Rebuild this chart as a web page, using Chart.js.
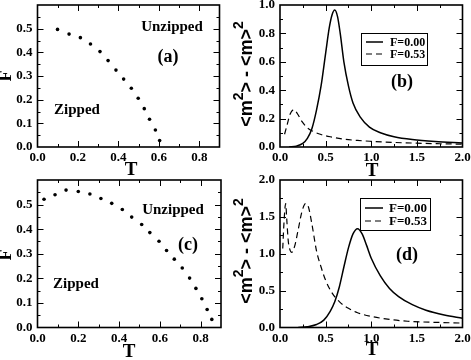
<!DOCTYPE html>
<html>
<head>
<meta charset="utf-8">
<script src="https://cdn.jsdelivr.net/npm/chart.js@4.4.1/dist/chart.umd.min.js"></script>
<style>
html, body { margin: 0; padding: 0; background: #fff; }
#wrap { position: relative; width: 471px; height: 360px; }
canvas { position: absolute; left: 0; top: 0; }
</style>
</head>
<body>
<div id="wrap">
<canvas id="pa" width="471" height="360"></canvas>
<canvas id="pb" width="471" height="360"></canvas>
<canvas id="pc" width="471" height="360"></canvas>
<canvas id="pd" width="471" height="360"></canvas>
</div>
<script>
// (a) phase boundary
const aT = [0.099, 0.156, 0.212, 0.262, 0.309, 0.349, 0.388, 0.426, 0.464, 0.498, 0.528, 0.554, 0.583, 0.604];
const aF = [0.497, 0.477, 0.462, 0.435, 0.403, 0.365, 0.325, 0.287, 0.248, 0.206, 0.162, 0.117, 0.072, 0.027];

// (c) phase boundary
const cT = [0.032, 0.086, 0.140, 0.200, 0.257, 0.311, 0.364, 0.416, 0.462, 0.511, 0.551, 0.596, 0.633, 0.671, 0.710, 0.746, 0.777, 0.806, 0.832, 0.855];
const cF = [0.522, 0.540, 0.559, 0.553, 0.543, 0.525, 0.505, 0.480, 0.449, 0.419, 0.386, 0.351, 0.313, 0.278, 0.242, 0.201, 0.159, 0.117, 0.073, 0.033];

// (b) fluctuations
const bT0 = [0.10, 0.18, 0.25, 0.30, 0.35, 0.40, 0.45, 0.50, 0.54, 0.57, 0.60, 0.63, 0.66, 0.70, 0.75, 0.80, 0.88, 0.98, 1.10, 1.25, 1.45, 1.70, 2.00];
const bV0 = [0.0, 0.006, 0.025, 0.06, 0.13, 0.26, 0.43, 0.66, 0.84, 0.93, 0.965, 0.92, 0.80, 0.60, 0.43, 0.31, 0.21, 0.14, 0.10, 0.072, 0.052, 0.038, 0.028];
const bT53 = [0.05, 0.08, 0.11, 0.15, 0.19, 0.24, 0.30, 0.37, 0.45, 0.55, 0.70, 0.85, 1.00, 1.25, 1.50, 1.75, 2.00];
const bV53 = [0.09, 0.16, 0.23, 0.262, 0.235, 0.18, 0.135, 0.108, 0.088, 0.072, 0.055, 0.046, 0.040, 0.032, 0.027, 0.023, 0.020];

// (d) fluctuations
const dT0 = [0.20, 0.30, 0.40, 0.48, 0.55, 0.60, 0.65, 0.70, 0.75, 0.80, 0.85, 0.90, 0.95, 1.00, 1.10, 1.20, 1.30, 1.45, 1.60, 1.80, 2.00];
const dV0 = [0.0, 0.01, 0.04, 0.10, 0.22, 0.35, 0.55, 0.82, 1.08, 1.27, 1.34, 1.27, 1.11, 0.94, 0.70, 0.53, 0.42, 0.31, 0.235, 0.17, 0.125];
const dT53 = [0.03, 0.045, 0.062, 0.075, 0.09, 0.11, 0.128, 0.16, 0.20, 0.24, 0.28, 0.31, 0.35, 0.40, 0.45, 0.50, 0.57, 0.65, 0.75, 0.85, 1.00, 1.20, 1.40, 1.70, 2.00];
const dV53 = [1.07, 1.45, 1.68, 1.45, 1.18, 1.05, 1.02, 1.10, 1.33, 1.57, 1.68, 1.64, 1.40, 1.04, 0.82, 0.64, 0.47, 0.35, 0.26, 0.20, 0.15, 0.11, 0.085, 0.07, 0.06];

const seriesLabels = ['F=0.00', 'F=0.53'];
const phaseXTicks = ['0.0', '0.2', '0.4', '0.6', '0.8'];
const phaseYTicks = ['0.0', '0.1', '0.2', '0.3', '0.4', '0.5'];
const flucXTicks = ['0.0', '0.5', '1.0', '1.5', '2.0'];
const bYTicks = ['0.0', '0.2', '0.4', '0.6', '0.8', '1.0'];
const dYTicks = ['0.0', '0.5', '1.0', '1.5', '2.0'];

function pts(xs, ys) {
    return xs.map((x, i) => ({x: x, y: ys[i]}));
}

const SERIF = '"Liberation Serif", "Times New Roman", serif';
const SANS = '"Liberation Sans", Arial, sans-serif';

// box with inward ticks on all four sides
const frame = {
    id: 'frame',
    afterDraw(chart) {
        const o = chart.options.plugins.frame;
        if (!o) return;
        const ctx = chart.ctx, a = chart.chartArea;
        const xs = chart.scales.x, ys = chart.scales.y;
        const marks = (min, max, minor, major) => {
            const out = [];
            const n = Math.round((max - min) / minor);
            for (let i = 1; i < n; i++) {
                const v = min + i * minor;
                const r = v / major;
                out.push({v: v, big: Math.abs(r - Math.round(r)) < 1e-6});
            }
            return out;
        };
        ctx.save();
        ctx.strokeStyle = '#000';
        ctx.lineWidth = 1;
        ctx.beginPath();
        marks(xs.min, xs.max, o.xMinor, o.xMajor).forEach(m => {
            const p = Math.round(xs.getPixelForValue(m.v)) + 0.5, len = m.big ? 6 : 3;
            ctx.moveTo(p, a.bottom); ctx.lineTo(p, a.bottom - len);
            ctx.moveTo(p, a.top); ctx.lineTo(p, a.top + len);
        });
        marks(ys.min, ys.max, o.yMinor, o.yMajor).forEach(m => {
            const p = Math.round(ys.getPixelForValue(m.v)) + 0.5, len = m.big ? 6 : 3;
            ctx.moveTo(a.left, p); ctx.lineTo(a.left + len, p);
            ctx.moveTo(a.right, p); ctx.lineTo(a.right - len, p);
        });
        ctx.stroke();
        ctx.lineWidth = 1.6;
        ctx.strokeRect(a.left, a.top, a.right - a.left, a.bottom - a.top);
        ctx.restore();
    }
};

// free text: axis titles, region names, panel tags
const texts = {
    id: 'texts',
    afterDraw(chart) {
        const items = chart.options.plugins.texts || [];
        const ctx = chart.ctx;
        items.forEach(it => {
            ctx.save();
            ctx.fillStyle = '#000';
            ctx.textAlign = 'center';
            ctx.textBaseline = 'middle';
            ctx.translate(it.x, it.y);
            if (it.rot) ctx.rotate(-Math.PI / 2);
            if (it.parts) {
                // text with raised "2"
                let w = 0;
                it.parts.forEach(p => {
                    ctx.font = 'bold ' + (p[1] ? it.supSize : it.size) + 'px ' + SANS;
                    w += ctx.measureText(p[0]).width;
                });
                let x = -w / 2;
                ctx.textAlign = 'left';
                it.parts.forEach(p => {
                    ctx.font = 'bold ' + (p[1] ? it.supSize : it.size) + 'px ' + SANS;
                    ctx.fillText(p[0], x, p[1] ? -it.supOff : 0);
                    x += ctx.measureText(p[0]).width;
                });
            } else {
                ctx.font = 'bold ' + it.size + 'px ' + SERIF;
                ctx.fillText(it.t, 0, 0);
            }
            ctx.restore();
        });
    }
};

// boxed legend inside the plot
const boxLegend = {
    id: 'boxLegend',
    afterDraw(chart) {
        const o = chart.options.plugins.boxLegend;
        if (!o) return;
        const ctx = chart.ctx;
        ctx.save();
        ctx.fillStyle = '#fff';
        ctx.fillRect(o.x1, o.y1, o.x2 - o.x1, o.y2 - o.y1);
        ctx.strokeStyle = '#000';
        ctx.lineWidth = 1;
        ctx.strokeRect(o.x1 + 0.5, o.y1 + 0.5, o.x2 - o.x1, o.y2 - o.y1);
        chart.data.datasets.forEach((ds, i) => {
            const y = o.rows[i];
            ctx.beginPath();
            ctx.setLineDash(ds.borderDash || []);
            ctx.lineWidth = ds.borderWidth;
            ctx.moveTo(o.lx1, y);
            ctx.lineTo(o.lx2, y);
            ctx.stroke();
            ctx.setLineDash([]);
            ctx.fillStyle = '#000';
            ctx.font = 'bold ' + o.size + 'px ' + SERIF;
            ctx.textAlign = 'left';
            ctx.textBaseline = 'middle';
            ctx.fillText(ds.label, o.tx, y + 0.5);
        });
        ctx.restore();
    }
};

function axis(min, max, step, labels, isX) {
    return {
        type: 'linear',
        min: min,
        max: max,
        grid: {display: false, drawTicks: false},
        border: {display: false},
        ticks: {
            stepSize: step,
            color: '#000',
            padding: isX ? 3 : 5,
            maxRotation: 0,
            autoSkip: false,
            font: {family: SERIF, weight: 'bold', size: 13},
            callback: v => {
                const s = Number(v).toFixed(1);
                return labels.includes(s) ? s : '';
            }
        },
        afterFit: s => {
            if (isX) s.height = 20; else s.width = 30;
            s.paddingTop = 0; s.paddingBottom = 0;
            s.paddingLeft = 0; s.paddingRight = 0;
        }
    };
}

function makePanel(id, box, datasets, xAxis, yAxis, frameOpts, textItems, legendOpts) {
    new Chart(document.getElementById(id), {
        type: 'scatter',
        data: {datasets: datasets},
        options: {
            responsive: false,
            animation: false,
            events: [],
            layout: {padding: {left: box.L - 30, right: 471 - box.R, top: box.T, bottom: 360 - box.B - 20}},
            scales: {x: xAxis, y: yAxis},
            plugins: {
                legend: {display: false},
                tooltip: {enabled: false},
                frame: frameOpts,
                texts: textItems,
                boxLegend: legendOpts
            }
        },
        plugins: [frame, texts, boxLegend]
    });
}

function dots(xs, ys) {
    return {data: pts(xs, ys), showLine: false, pointRadius: 1.8, pointBackgroundColor: '#000', pointBorderWidth: 0};
}

function curve(xs, ys, label, dashed) {
    return {
        label: label,
        data: pts(xs, ys),
        showLine: true,
        pointRadius: 0,
        borderColor: '#000',
        borderWidth: dashed ? 1.2 : 1.5,
        borderDash: dashed ? [6, 4] : [],
        cubicInterpolationMode: 'monotone'
    };
}

const msqParts = [['<m', false], ['2', true], ['> - <m>', false], ['2', true]];

makePanel('pa', {L: 37.5, R: 219.5, T: 5, B: 147},
    [dots(aT, aF)],
    axis(0, 0.9, 0.1, phaseXTicks, true), axis(0, 0.6, 0.1, phaseYTicks, false),
    {xMajor: 0.2, xMinor: 0.1, yMajor: 0.1, yMinor: 0.05},
    [{t: 'Unzipped', x: 172, y: 27, size: 15},
     {t: '(a)', x: 168, y: 57, size: 18},
     {t: 'Zipped', x: 77, y: 110, size: 15},
     {t: 'F', x: 6, y: 76, size: 18, rot: true},
     {t: 'T', x: 131, y: 170, size: 19}],
    null);

makePanel('pb', {L: 280, R: 462.5, T: 5, B: 147},
    [curve(bT0, bV0, seriesLabels[0], false), curve(bT53, bV53, seriesLabels[1], true)],
    axis(0, 2, 0.5, flucXTicks, true), axis(0, 1, 0.2, bYTicks, false),
    {xMajor: 0.5, xMinor: 0.25, yMajor: 0.2, yMinor: 0.1},
    [{t: '(b)', x: 402, y: 82, size: 18},
     {t: 'T', x: 372, y: 171, size: 19},
     {parts: msqParts, x: 247, y: 74, size: 18, supSize: 14, supOff: 8, rot: true}],
    {x1: 361, y1: 33, x2: 427, y2: 65, lx1: 366, lx2: 383, tx: 390, rows: [42, 54], size: 12});

makePanel('pc', {L: 37.5, R: 221, T: 180, B: 327.5},
    [dots(cT, cF)],
    axis(0, 0.9, 0.1, phaseXTicks, true), axis(0, 0.6, 0.1, phaseYTicks, false),
    {xMajor: 0.2, xMinor: 0.1, yMajor: 0.1, yMinor: 0.05},
    [{t: 'Unzipped', x: 173, y: 210, size: 15},
     {t: '(c)', x: 188, y: 245, size: 18},
     {t: 'Zipped', x: 76, y: 284, size: 15},
     {t: 'F', x: 6, y: 255, size: 18, rot: true},
     {t: 'T', x: 129, y: 352, size: 19}],
    null);

makePanel('pd', {L: 280, R: 462.5, T: 180, B: 327.5},
    [curve(dT0, dV0, seriesLabels[0], false), curve(dT53, dV53, seriesLabels[1], true)],
    axis(0, 2, 0.5, flucXTicks, true), axis(0, 2, 0.5, dYTicks, false),
    {xMajor: 0.5, xMinor: 0.25, yMajor: 0.5, yMinor: 0.25},
    [{t: '(d)', x: 407, y: 255, size: 18},
     {t: 'T', x: 372, y: 350, size: 19},
     {parts: msqParts, x: 247, y: 251, size: 18, supSize: 14, supOff: 8, rot: true}],
    {x1: 360, y1: 198, x2: 430, y2: 230, lx1: 365, lx2: 383, tx: 389, rows: [208, 221], size: 13});
</script>
</body>
</html>
